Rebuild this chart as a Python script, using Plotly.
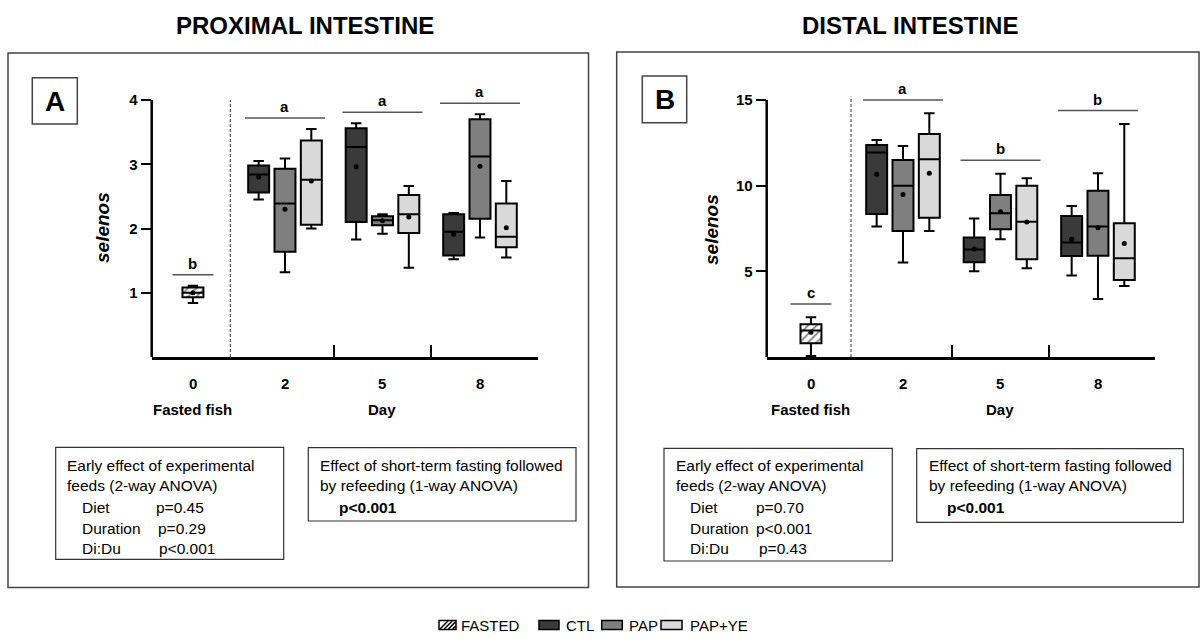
import plotly.graph_objects as go

FONT = "Liberation Sans, Arial, sans-serif"
W, H = 1200, 639

# ---------------- data ----------------
series = ["CTL", "PAP", "PAP+YE"]
colors = {"CTL": "#3a3a3a", "PAP": "#7f7f7f", "PAP+YE": "#d9d9d9"}
day_labels = ["2", "5", "8"]

# Panel A - proximal intestine (selenos)
a_fasted = dict(lf=0.84, q1=0.93, med=1.00, q3=1.08, uf=1.11, mean=1.00)
a_lf = {"CTL": [2.45, 1.83, 1.52], "PAP": [1.32, 1.92, 1.86], "PAP+YE": [2.00, 1.39, 1.55]}
a_q1 = {"CTL": [2.56, 2.10, 1.58], "PAP": [1.64, 2.05, 2.15], "PAP+YE": [2.06, 1.93, 1.71]}
a_med = {"CTL": [2.84, 3.27, 1.95], "PAP": [2.39, 2.13, 3.12], "PAP+YE": [2.76, 2.22, 1.87]}
a_q3 = {"CTL": [2.98, 3.56, 2.22], "PAP": [2.93, 2.19, 3.70], "PAP+YE": [3.37, 2.52, 2.39]}
a_uf = {"CTL": [3.05, 3.64, 2.24], "PAP": [3.09, 2.22, 3.78], "PAP+YE": [3.55, 2.66, 2.74]}
a_mean = {"CTL": [2.80, 2.96, 1.91], "PAP": [2.30, 2.12, 2.97], "PAP+YE": [2.74, 2.18, 2.01]}
a_sig_fasted = "b"
a_sig_days = ["a", "a", "a"]
a_yticks = [1, 2, 3, 4]

# Panel B - distal intestine (selenos)
b_fasted = dict(lf=0.06, q1=0.80, med=1.55, q3=1.91, uf=2.32, mean=1.45)
b_lf = {"CTL": [7.61, 5.00, 4.75], "PAP": [5.51, 6.87, 3.39], "PAP+YE": [7.35, 5.18, 4.14]}
b_q1 = {"CTL": [8.35, 5.53, 5.89], "PAP": [7.35, 7.45, 5.91], "PAP+YE": [8.13, 5.70, 4.49]}
b_med = {"CTL": [11.93, 6.28, 6.69], "PAP": [10.00, 8.39, 7.61], "PAP+YE": [11.54, 7.90, 5.76]}
b_q3 = {"CTL": [12.37, 6.97, 8.23], "PAP": [11.50, 9.46, 9.71], "PAP+YE": [13.02, 10.00, 7.80]}
b_uf = {"CTL": [12.67, 8.09, 8.81], "PAP": [12.32, 10.70, 10.72], "PAP+YE": [14.22, 10.43, 13.60]}
b_mean = {"CTL": [10.66, 6.30, 6.87], "PAP": [9.49, 8.48, 7.55], "PAP+YE": [10.72, 7.88, 6.63]}
b_sig_fasted = "c"
b_sig_days = ["a", "b", "b"]
b_yticks = [5, 10, 15]

a_stats = ["Diet", "Duration", "Di:Du"]
a_pvals = ["p=0.45", "p=0.29", "p<0.001"]
b_stats = ["Diet", "Duration", "Di:Du"]
b_pvals = ["p=0.70", "p<0.001", "p=0.43"]
anova1_p = "p<0.001"

# ---------------- layout helpers ----------------
def px(x):
    return x / W

def py(y):
    return 1 - y / H

FASTED_POS = 0.056
GROUP_POS = [1, 2, 3]
OFFS = {"CTL": -0.27, "PAP": 0.0, "PAP+YE": 0.27}
BOX_W = 0.215

fig = go.Figure()
shapes = []
annots = []


def panel(xa, ya, fasted, lf, q1, med, q3, uf, mean, sig_f, sig_d,
          yticks, y_top, x_left_px, x_right_px, dash_x, dash_top, sig_off, xrange_):
    xr = "x" if xa == "xaxis" else "x2"
    yr = "y" if ya == "yaxis" else "y2"
    # fasted box: hatched bar as body + box outline
    fig.add_trace(go.Bar(
        x=[FASTED_POS], y=[fasted["q3"] - fasted["q1"]], base=[fasted["q1"]],
        width=BOX_W, xaxis=xr, yaxis=yr, showlegend=False, hoverinfo="skip",
        marker=dict(color="white", line=dict(width=0),
                    pattern=dict(shape="/", fgcolor="black", bgcolor="white",
                                 size=6, solidity=0.3))))
    fig.add_trace(go.Box(
        x=[FASTED_POS], q1=[fasted["q1"]], median=[fasted["med"]], q3=[fasted["q3"]],
        lowerfence=[fasted["lf"]], upperfence=[fasted["uf"]],
        width=BOX_W, whiskerwidth=0.5, fillcolor="rgba(0,0,0,0)",
        line=dict(color="black", width=2), boxpoints=False,
        xaxis=xr, yaxis=yr, showlegend=False))
    fig.add_trace(go.Scatter(x=[FASTED_POS], y=[fasted["mean"]], mode="markers",
                             marker=dict(color="black", size=5), xaxis=xr, yaxis=yr,
                             showlegend=False))
    for s in series:
        pos = [g + OFFS[s] for g in GROUP_POS]
        fig.add_trace(go.Box(
            x=pos, q1=q1[s], median=med[s], q3=q3[s], lowerfence=lf[s], upperfence=uf[s],
            width=BOX_W, whiskerwidth=0.5, fillcolor=colors[s],
            line=dict(color="black", width=2), boxpoints=False,
            xaxis=xr, yaxis=yr, showlegend=False, name=s))
        fig.add_trace(go.Scatter(x=pos, y=mean[s], mode="markers",
                                 marker=dict(color="black", size=5),
                                 xaxis=xr, yaxis=yr, showlegend=False))
    # y axis line up to top tick
    shapes.append(dict(type="line", xref=f"{xr} domain", yref=yr, x0=0, x1=0,
                       y0=0, y1=max(yticks), line=dict(color="black", width=2.5)))
    # dashed separator
    shapes.append(dict(type="line", xref=xr, yref=yr, x0=dash_x, x1=dash_x,
                       y0=0, y1=dash_top,
                       line=dict(color="#555555", width=1.2, dash="3px,2px")))
    # significance lines and letters
    ftop = fasted["uf"] + sig_off
    shapes.append(dict(type="line", xref=xr, yref=yr, x0=FASTED_POS - 0.21,
                       x1=FASTED_POS + 0.21, y0=ftop, y1=ftop,
                       line=dict(color="#555555", width=1.5)))
    annots.append(dict(xref=xr, yref=yr, x=FASTED_POS, y=ftop, text=f"<b>{sig_f}</b>",
                       showarrow=False, yanchor="bottom", yshift=1,
                       font=dict(size=15, color="black", family=FONT)))
    for i, g in enumerate(GROUP_POS):
        top = max(uf[s][i] for s in series) + sig_off
        shapes.append(dict(type="line", xref=xr, yref=yr, x0=g - 0.41, x1=g + 0.41,
                           y0=top, y1=top, line=dict(color="#555555", width=1.5)))
        annots.append(dict(xref=xr, yref=yr, x=g, y=top, text=f"<b>{sig_d[i]}</b>",
                           showarrow=False, yanchor="bottom", yshift=1,
                           font=dict(size=15, color="black", family=FONT)))
    # x labels
    annots.append(dict(xref=xr, yref="paper", x=FASTED_POS, y=py(383), text="<b>0</b>",
                       showarrow=False, font=dict(size=15, color="black", family=FONT)))
    for g, lab in zip(GROUP_POS, day_labels):
        annots.append(dict(xref=xr, yref="paper", x=g, y=py(383), text=f"<b>{lab}</b>",
                           showarrow=False, font=dict(size=15, color="black", family=FONT)))
    annots.append(dict(xref=xr, yref="paper", x=FASTED_POS, y=py(409), text="<b>Fasted fish</b>",
                       showarrow=False, font=dict(size=15, color="black", family=FONT)))
    annots.append(dict(xref=xr, yref="paper", x=2, y=py(409), text="<b>Day</b>",
                       showarrow=False, font=dict(size=15, color="black", family=FONT)))

    fig.update_layout(**{
        xa: dict(domain=[px(x_left_px), px(x_right_px)], range=xrange_,
                 showgrid=False, zeroline=False, showline=True, linecolor="black",
                 linewidth=2.5, ticks="inside", tickvals=[1.5, 2.5], ticklen=12,
                 tickwidth=2, tickcolor="black", showticklabels=False, fixedrange=True),
        ya: dict(domain=[py(357), py(61.4)], range=[0, y_top], showgrid=False,
                 zeroline=False, showline=False, ticks="outside", tickvals=yticks,
                 ticklen=10, tickwidth=2, tickcolor="black",
                 tickfont=dict(size=15, color="black", family=FONT, weight="bold"),
                 anchor=xr, fixedrange=True),
    })


panel("xaxis", "yaxis", a_fasted, a_lf, a_q1, a_med, a_q3, a_uf, a_mean,
      a_sig_fasted, a_sig_days, a_yticks, 4 * (357 - 61.4) / (357 - 100),
      151.7, 538, 0.44, 4.0, 0.17, [-0.367, 3.595])
panel("xaxis2", "yaxis2", b_fasted, b_lf, b_q1, b_med, b_q3, b_uf, b_mean,
      b_sig_fasted, b_sig_days, b_yticks, 15 * (357 - 61.4) / (357 - 100),
      766.7, 1155, 0.467, 15.2, 0.78, [-0.398, 3.585])
fig.update_layout(xaxis2=dict(anchor="y2"), yaxis2=dict(anchor="x2"))

# ---------------- decorations ----------------
def rect(x0, y0, x1, y1, color="#444444", width=1.5):
    shapes.append(dict(type="rect", xref="paper", yref="paper", x0=px(x0), x1=px(x1),
                       y0=py(y1), y1=py(y0), line=dict(color=color, width=width),
                       fillcolor="rgba(0,0,0,0)", layer="below"))


def text(x, y, t, size=15.5, bold=False, italic=False, anchor="left", angle=0):
    if bold:
        t = f"<b>{t}</b>"
    if italic:
        t = f"<i>{t}</i>"
    annots.append(dict(xref="paper", yref="paper", x=px(x), y=py(y), text=t,
                       showarrow=False, xanchor=anchor, yanchor="middle", textangle=angle,
                       font=dict(size=size, color="black", family=FONT)))

# titles
text(305, 25, "PROXIMAL INTESTINE", size=24, bold=True, anchor="center")
text(910, 25, "DISTAL INTESTINE", size=24, bold=True, anchor="center")
# panel frames
rect(8, 53, 588.5, 587.5)
rect(616.7, 52, 1199, 587)
# panel letters
rect(32.3, 77.7, 77.3, 124)
text(54.8, 101, "A", size=28, bold=True, anchor="center")
rect(642.3, 76, 686.7, 122.7)
text(664.5, 99.5, "B", size=28, bold=True, anchor="center")
# y titles
text(102, 228, "selenos", size=19, bold=True, italic=True, anchor="center", angle=-90)
text(712, 230, "selenos", size=19, bold=True, italic=True, anchor="center", angle=-90)

# stats boxes
def stat_boxes(bx0, by0, bx1, by1, stats, pvals, pxs, cx0, cy0, cx1, cy1):
    rect(bx0, by0, bx1, by1, color="#333333", width=1.2)
    text(bx0 + 9.5, 465.5, "Early effect of experimental")
    text(bx0 + 9.5, 485.5, "feeds (2-way ANOVA)")
    for i, (s, p) in enumerate(zip(stats, pvals)):
        yy = 507.5 + 20.5 * i
        text(bx0 + 24.3, yy, s)
        text(pxs[i], yy, p)
    rect(cx0, cy0, cx1, cy1, color="#333333", width=1.2)
    text(cx0 + 10, 465.5, "Effect of short-term fasting followed")
    text(cx0 + 10, 485.5, "by refeeding (1-way ANOVA)")
    text(cx0 + 28.5, 507.5, anova1_p, bold=True)

stat_boxes(55.7, 447.3, 283.7, 559.3, a_stats, a_pvals, [154, 156, 157.3],
           308.3, 447.7, 576, 521)
stat_boxes(664, 448.3, 892.3, 561, b_stats, b_pvals, [754, 754, 756.7],
           916.7, 448.7, 1183.3, 522.3)

# legend
leg_items = ["FASTED", "CTL", "PAP", "PAP+YE"]
leg_patch = [(439, 456), (539, 559), (601.7, 622.3), (661, 682)]
leg_text_x = [458.5, 564, 627, 688]
leg_fill = ["white", colors["CTL"], colors["PAP"], colors["PAP+YE"]]
for name, (x0, x1), tx, fc in zip(leg_items, leg_patch, leg_text_x, leg_fill):
    shapes.append(dict(type="rect", xref="paper", yref="paper", x0=px(x0), x1=px(x1),
                       y0=py(629.5), y1=py(620.5), fillcolor=fc,
                       line=dict(color="black", width=1.5)))
    if name == "FASTED":
        for k in range(4):
            a0 = x0 + 1 + 4.2 * k
            shapes.append(dict(type="line", xref="paper", yref="paper",
                               x0=px(a0), x1=px(min(a0 + 8, x1 - 0.5)),
                               y0=py(629), y1=py(629 - 8 * (min(a0 + 8, x1 - 0.5) - a0) / 8),
                               line=dict(color="black", width=1.5)))
    text(tx, 625.5, name, size=15)

fig.update_layout(
    width=W, height=H, margin=dict(l=0, r=0, t=0, b=0),
    paper_bgcolor="white", plot_bgcolor="white",
    shapes=shapes, annotations=annots, showlegend=False,
    font=dict(family=FONT, color="black"),
)
fig.write_html(
    "out.html",
    config={"displayModeBar": False, "staticPlot": True},
    post_script="document.body.style.margin='0px';document.body.style.padding='0px';"
                "document.body.style.overflow='hidden';",
)
